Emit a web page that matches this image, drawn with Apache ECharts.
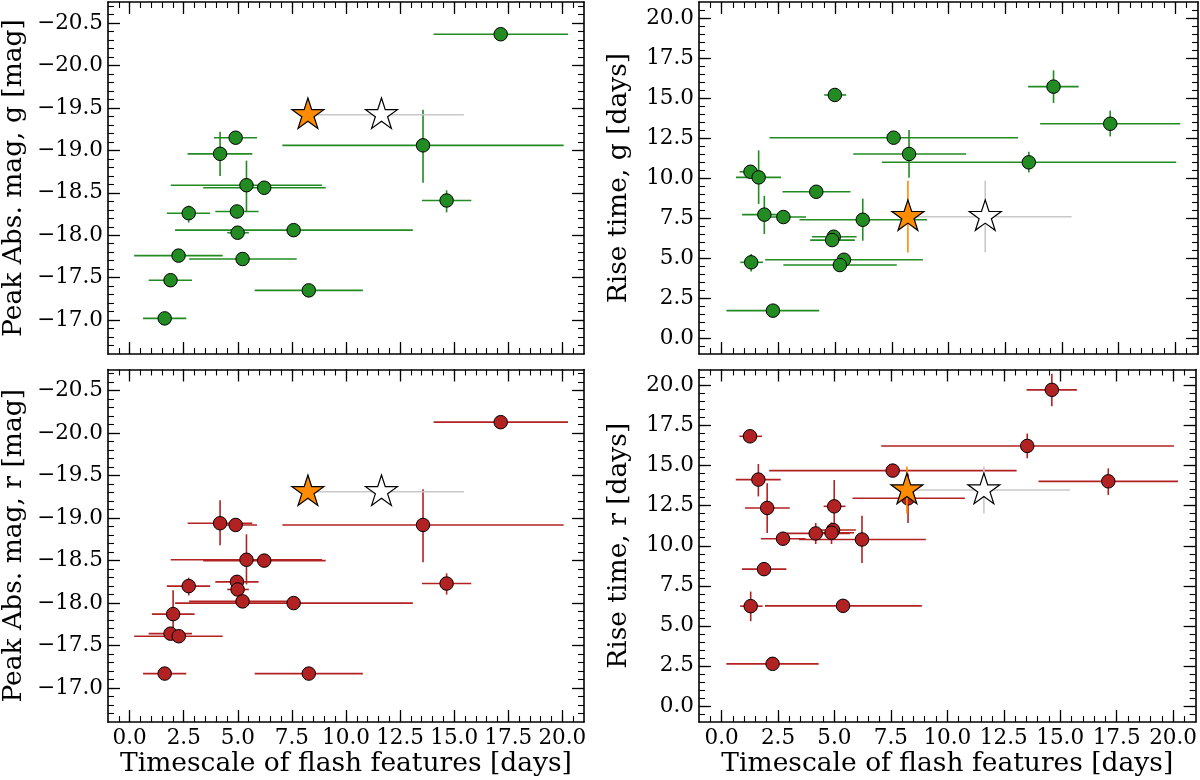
<!DOCTYPE html>
<html><head><meta charset="utf-8">
<script src="https://cdn.jsdelivr.net/npm/echarts@6/dist/echarts.min.js"></script>
<style>html,body{margin:0;padding:0;background:#fff}#chart{width:1200px;height:780px}</style>
</head><body><div id="chart"></div>
<script>
// rows: [timescale, timescaleLo, timescaleHi, value, valueLo, valueHi]
const gPeakMag = [
  [17.15, 14.05, 20.26, -20.37, -20.37, -20.37],
  [4.90, 3.90, 5.89, -19.15, -19.15, -19.15],
  [4.18, 2.68, 5.67, -18.96, -19.22, -18.70],
  [5.40, 1.90, 8.89, -18.59, -18.88, -18.28],
  [6.22, 3.40, 9.06, -18.56, -18.56, -18.56],
  [2.73, 1.72, 3.72, -18.26, -18.35, -18.15],
  [4.96, 3.96, 5.96, -18.28, -18.28, -18.28],
  [4.99, 4.51, 5.51, -18.03, -18.03, -18.03],
  [7.58, 2.10, 13.09, -18.06, -18.06, -18.06],
  [2.26, 0.21, 4.30, -17.76, -17.76, -17.76],
  [5.22, 2.75, 7.72, -17.72, -17.72, -17.72],
  [1.89, 0.88, 2.88, -17.47, -17.47, -17.47],
  [8.28, 5.78, 10.78, -17.35, -17.35, -17.35],
  [1.62, 0.62, 2.62, -17.02, -17.02, -17.02],
  [13.56, 7.06, 20.06, -19.06, -19.48, -18.62],
  [14.65, 13.51, 15.79, -18.41, -18.53, -18.27]
];
const rPeakMag = [
  [17.15, 14.05, 20.26, -20.13, -20.13, -20.13],
  [4.18, 2.68, 5.67, -18.94, -19.21, -18.68],
  [4.90, 3.90, 5.89, -18.92, -18.92, -18.92],
  [13.56, 7.06, 20.06, -18.92, -19.34, -18.48],
  [5.40, 1.90, 8.89, -18.51, -18.81, -18.22],
  [6.22, 3.40, 9.06, -18.50, -18.50, -18.50],
  [2.73, 1.72, 3.72, -18.20, -18.30, -18.09],
  [4.96, 3.96, 5.96, -18.25, -18.25, -18.25],
  [4.99, 4.51, 5.51, -18.16, -18.16, -18.16],
  [14.65, 13.51, 15.79, -18.23, -18.35, -18.10],
  [5.22, 2.75, 7.72, -18.02, -18.02, -18.02],
  [7.58, 2.10, 13.09, -18.00, -18.00, -18.00],
  [2.01, 1.03, 3.00, -17.87, -18.15, -17.70],
  [1.89, 0.88, 2.88, -17.64, -17.64, -17.64],
  [2.27, 0.21, 4.30, -17.61, -17.61, -17.61],
  [1.62, 0.62, 2.62, -17.17, -17.17, -17.17],
  [8.28, 5.78, 10.78, -17.17, -17.17, -17.17]
];
const gRiseTime = [
  [4.99, 4.52, 5.49, 15.19, 15.19, 15.19],
  [14.63, 13.51, 15.74, 15.71, 14.69, 16.73],
  [17.13, 14.04, 20.22, 13.39, 12.60, 14.21],
  [7.58, 2.11, 13.07, 12.52, 12.52, 12.52],
  [8.26, 5.80, 10.78, 11.50, 10.02, 13.00],
  [13.54, 7.07, 20.04, 10.98, 10.35, 11.64],
  [1.27, 0.79, 1.79, 10.39, 10.39, 10.39],
  [1.63, 0.63, 2.62, 10.04, 8.38, 11.73],
  [4.17, 2.68, 5.68, 9.14, 9.14, 9.14],
  [1.88, 0.90, 2.87, 7.71, 6.50, 8.89],
  [2.72, 1.74, 3.72, 7.56, 7.56, 7.56],
  [6.22, 3.43, 9.05, 7.39, 6.08, 8.71],
  [4.94, 3.98, 5.95, 6.33, 6.33, 6.33],
  [4.87, 3.90, 5.87, 6.12, 6.12, 6.12],
  [5.39, 1.92, 8.87, 4.89, 4.89, 4.89],
  [5.21, 2.72, 7.72, 4.56, 4.56, 4.56],
  [1.30, 0.82, 1.82, 4.73, 4.16, 5.25],
  [2.26, 0.21, 4.30, 1.71, 1.71, 1.71]
];
const rRiseTime = [
  [14.63, 13.51, 15.74, 19.73, 18.71, 20.73],
  [1.26, 0.79, 1.79, 16.83, 16.83, 16.83],
  [13.54, 7.07, 20.04, 16.23, 15.46, 17.00],
  [7.58, 2.11, 13.07, 14.69, 14.69, 14.69],
  [1.63, 0.63, 2.62, 14.13, 13.08, 15.10],
  [17.13, 14.04, 20.22, 14.02, 13.17, 14.83],
  [2.02, 1.04, 3.02, 12.36, 10.79, 13.90],
  [4.99, 4.52, 5.49, 12.46, 10.79, 14.10],
  [8.26, 5.80, 10.78, 12.96, 11.42, 14.50],
  [2.72, 1.74, 3.72, 10.44, 10.44, 10.44],
  [4.17, 2.68, 5.68, 10.77, 10.11, 11.42],
  [4.94, 3.98, 5.95, 10.98, 10.98, 10.98],
  [4.87, 3.90, 5.87, 10.81, 10.11, 11.46],
  [6.22, 3.43, 9.05, 10.39, 8.92, 11.88],
  [1.88, 0.90, 2.87, 8.54, 8.54, 8.54],
  [1.29, 0.82, 1.82, 6.23, 5.29, 7.14],
  [5.38, 1.92, 8.87, 6.25, 6.25, 6.25],
  [2.26, 0.21, 4.30, 2.63, 2.63, 2.63]
];
// stars, panel order: g mag, g rise, r mag, r rise
const orangeStarRows = [
  [8.24, 8.24, 8.24, -19.42, -19.42, -19.42],
  [8.21, 8.21, 8.21, 7.58, 5.35, 9.83],
  [8.24, 8.24, 8.24, -19.31, -19.31, -19.31],
  [8.21, 8.21, 8.21, 13.48, 12.02, 14.94]
];
const whiteStarRows = [
  [11.64, 7.84, 15.45, -19.42, -19.42, -19.42],
  [11.62, 7.82, 15.43, 7.58, 5.35, 9.83],
  [11.64, 7.84, 15.45, -19.31, -19.31, -19.31],
  [11.62, 7.82, 15.43, 13.48, 12.02, 14.94]
];
const xTicks = [0, 2.5, 5, 7.5, 10, 12.5, 15, 17.5, 20];
const magTicks = [-20.5, -20, -19.5, -19, -18.5, -18, -17.5, -17];
const riseTicks = [0, 2.5, 5, 7.5, 10, 12.5, 15, 17.5, 20];
const xAxisTitle = 'Timescale of flash features [days]';
const yTitles = ['Peak Abs. mag, g [mag]', 'Rise time, g [days]', 'Peak Abs. mag, r [mag]', 'Rise time, r [days]'];

function steps(a, b, s) { const out = []; const n = Math.round((b - a) / s); for (let i = 0; i <= n; i++) out.push(Math.round((a + i * s) * 1000) / 1000); return out; }
const xMinor = steps(-0.5, 20.5, 0.5);
const magMinor = steps(-20.7, -16.7, 0.1);
const riseMinor = steps(-0.5, 20.5, 0.5);

const GREEN = '#228b22', RED = '#b22222', ORANGE = '#ff8c00', GREY = '#c8c8c8';
const FONT = 'DejaVu Serif';
const TICK_FS = 21.5, TITLE_FS = 26.5;
const starPath = 'path://M0,-1L0.2245,-0.309L0.9511,-0.309L0.3633,0.118L0.5878,0.809L0,0.382L-0.5878,0.809L-0.3633,0.118L-0.9511,-0.309L-0.2245,-0.309Z';

const panels = [
  { grid: { left: 104, top: 2, width: 480, height: 352 }, rows: gPeakMag, color: GREEN, yMin: -20.75, yMax: -16.6, inverse: true, yTicks: magTicks, yMinor: magMinor, showX: false, nameGap: 80 },
  { grid: { left: 699, top: 2, width: 499, height: 352 }, rows: gRiseTime, color: GREEN, yMin: -1, yMax: 21, inverse: false, yTicks: riseTicks, yMinor: riseMinor, showX: false, nameGap: 66 },
  { grid: { left: 104, top: 369.5, width: 480, height: 352.5 }, rows: rPeakMag, color: RED, yMin: -20.75, yMax: -16.6, inverse: true, yTicks: magTicks, yMinor: magMinor, showX: true, nameGap: 80 },
  { grid: { left: 699, top: 369.5, width: 499, height: 352.5 }, rows: rRiseTime, color: RED, yMin: -1, yMax: 21, inverse: false, yTicks: riseTicks, yMinor: riseMinor, showX: true, nameGap: 66 }
];

function fmt(v) { return v < 0 ? '\u2212' + (-v).toFixed(1) : v.toFixed(1); }

const grids = [], xAxes = [], yAxes = [], series = [];
function mkAxis(gi, pos, min, max, ticks, len, isMajor, label, inverse) {
  return {
    type: 'value', gridIndex: gi, position: pos, min: min, max: max, inverse: !!inverse, offset: 0,
    axisLine: { show: isMajor, onZero: false, lineStyle: { color: '#000', width: 1.6 } },
    axisTick: { show: true, inside: true, length: len, customValues: ticks, lineStyle: { color: '#000', width: isMajor ? 1.3 : 1.1 } },
    axisLabel: label ? { show: true, customValues: ticks, formatter: fmt, fontFamily: FONT, fontSize: TICK_FS, color: '#000', margin: 5 } : { show: false },
    splitLine: { show: false }, minorTick: { show: false }
  };
}

function errRender(params, api) {
  const x = api.value(0), xl = api.value(1), xh = api.value(2), y = api.value(3), yl = api.value(4), yh = api.value(5);
  const style = { stroke: api.visual('color'), lineWidth: 1.6 };
  const kids = [];
  if (xh !== xl) { const a = api.coord([xl, y]), b = api.coord([xh, y]); kids.push({ type: 'line', shape: { x1: a[0], y1: a[1], x2: b[0], y2: b[1] }, style: style }); }
  if (yh !== yl) { const a = api.coord([x, yl]), b = api.coord([x, yh]); kids.push({ type: 'line', shape: { x1: a[0], y1: a[1], x2: b[0], y2: b[1] }, style: style }); }
  return { type: 'group', children: kids };
}

panels.forEach((p, gi) => {
  grids.push(p.grid);
  const xi = xAxes.length;
  const xb = mkAxis(gi, 'bottom', -1, 21, xTicks, 12, true, p.showX);
  if (p.showX) { xb.name = xAxisTitle; xb.nameLocation = 'middle'; xb.nameGap = 29; xb.nameTextStyle = { fontFamily: FONT, fontSize: TITLE_FS, color: '#000' }; }
  xAxes.push(xb);
  xAxes.push(mkAxis(gi, 'top', -1, 21, xTicks, 12, true, false));
  xAxes.push(mkAxis(gi, 'bottom', -1, 21, xMinor, 6, false, false));
  xAxes.push(mkAxis(gi, 'top', -1, 21, xMinor, 6, false, false));
  const yi = yAxes.length;
  const yl = mkAxis(gi, 'left', p.yMin, p.yMax, p.yTicks, 12, true, true, p.inverse);
  yl.name = yTitles[gi]; yl.nameLocation = 'middle'; yl.nameGap = p.nameGap; yl.nameTextStyle = { fontFamily: FONT, fontSize: TITLE_FS, color: '#000' };
  yAxes.push(yl);
  yAxes.push(mkAxis(gi, 'right', p.yMin, p.yMax, p.yTicks, 12, true, false, p.inverse));
  yAxes.push(mkAxis(gi, 'left', p.yMin, p.yMax, p.yMinor, 6, false, false, p.inverse));
  yAxes.push(mkAxis(gi, 'right', p.yMin, p.yMax, p.yMinor, 6, false, false, p.inverse));

  const base = { xAxisIndex: xi, yAxisIndex: yi, animation: false, silent: true };
  series.push(Object.assign({}, base, { type: 'custom', renderItem: errRender, itemStyle: { color: p.color }, encode: { x: [0, 1, 2], y: [3, 4, 5] }, data: p.rows, z: 2 }));
  series.push(Object.assign({}, base, { type: 'scatter', symbol: 'circle', symbolSize: 13.5, itemStyle: { color: p.color, borderColor: '#000', borderWidth: 1, opacity: 1 }, data: p.rows.map(r => [r[0], r[3]]), z: 3 }));
  series.push(Object.assign({}, base, { type: 'custom', renderItem: errRender, itemStyle: { color: GREY }, encode: { x: [0, 1, 2], y: [3, 4, 5] }, data: [whiteStarRows[gi]], z: 4 }));
  series.push(Object.assign({}, base, { type: 'scatter', symbol: starPath, symbolSize: [32, 30.4], symbolOffset: [0, -1.6], itemStyle: { color: '#fff', borderColor: '#000', borderWidth: 1.2, opacity: 1 }, data: [[whiteStarRows[gi][0], whiteStarRows[gi][3]]], z: 5 }));
  series.push(Object.assign({}, base, { type: 'custom', renderItem: errRender, itemStyle: { color: ORANGE }, encode: { x: [0, 1, 2], y: [3, 4, 5] }, data: [orangeStarRows[gi]], z: 6 }));
  series.push(Object.assign({}, base, { type: 'scatter', symbol: starPath, symbolSize: [32, 30.4], symbolOffset: [0, -1.6], itemStyle: { color: ORANGE, borderColor: '#000', borderWidth: 1.2, opacity: 1 }, data: [[orangeStarRows[gi][0], orangeStarRows[gi][3]]], z: 7 }));
});

const chart = echarts.init(document.getElementById('chart'), null, { renderer: 'canvas' });
chart.setOption({ backgroundColor: '#fff', animation: false, grid: grids, xAxis: xAxes, yAxis: yAxes, series: series });
</script></body></html>
